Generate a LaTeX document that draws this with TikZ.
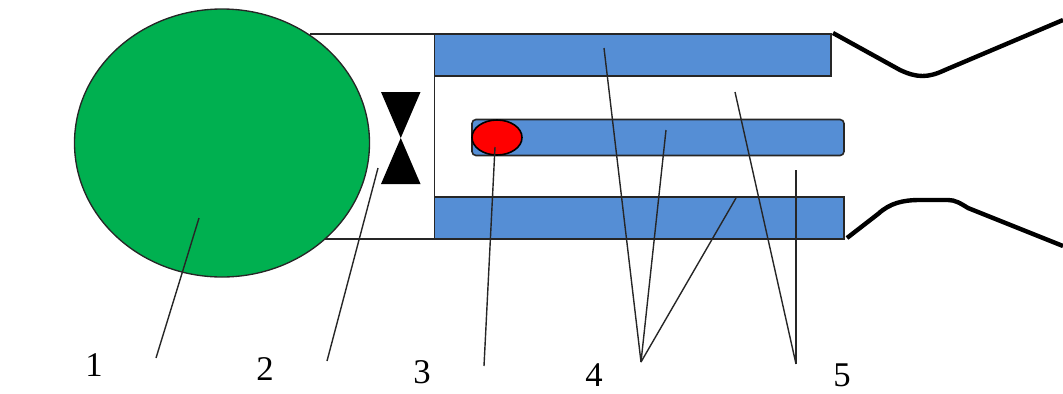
\documentclass[tikz,border=0pt]{standalone}
\usepackage{fontspec}
\usetikzlibrary{shapes.geometric}
\setmainfont{Liberation Serif}
\definecolor{barblue}{HTML}{558ED5}
\definecolor{bulbgreen}{HTML}{00B050}
\tikzset{
  bar/.style={draw=black!85,fill=barblue,line width=1.2pt,rectangle,inner sep=0pt,outer sep=0pt,anchor=north west},
  wall/.style={draw=black!85,line width=1.2pt},
  leader/.style={draw=black!85,line width=1.05pt},
  nozzle/.style={draw=black,line width=3.3pt,line join=round},
  lab/.style={font=\fontsize{26}{26}\selectfont,inner sep=0pt,text=black},
}
\begin{document}
\begin{tikzpicture}[x=0.75pt,y=-0.75pt]
\useasboundingbox (0,0) rectangle (1063,393);
% housing
\coordinate (hTL) at (310,34);
\coordinate (hTR) at (434.5,34);
\coordinate (hBL) at (325,239);
\coordinate (hBR) at (434.5,239);
\draw[wall] (hTL) -- (hTR) -- (hBR) -- (hBL);
% bars
\node[bar,minimum width=396.5*0.75pt,minimum height=42*0.75pt] (top) at (434.5,34) {};
\node[bar,minimum width=409.5*0.75pt,minimum height=42*0.75pt] (bot) at (434.5,197) {};
\node[bar,rounded corners=3pt,minimum width=372*0.75pt,minimum height=36*0.75pt] (mid) at (472,119.5) {};
% bulb
\node[draw=black!85,fill=bulbgreen,ellipse,line width=1pt,minimum width=295*0.75pt,minimum height=268*0.75pt,inner sep=0pt] (bulb) at (222,143) {};
\node[draw=black,fill=red,ellipse,line width=1.2pt,minimum width=50*0.75pt,minimum height=35*0.75pt,inner sep=0pt] (red) at (497,137.5) {};
% valve
\coordinate (v1) at (381,92);
\coordinate (v2) at (420.5,92);
\coordinate (v3) at (381,184);
\coordinate (v4) at (420.5,184);
\fill[black] (v1) -- (v2) -- (v3) -- (v4) -- cycle;
% nozzle
\coordinate (n1) at (833,33);
\coordinate (n2) at (1063,20);
\coordinate (n3) at (847,238);
\coordinate (n4) at (1063,246);
\draw[nozzle] (n1) -- (900,70) .. controls (917,78) and (928,78) .. (945,70) -- (n2);
\draw[nozzle] (n3) -- (878,214) .. controls (890,203) and (903,200) .. (920,200) -- (948,200) .. controls (955,200) and (960,203) .. (968,208) -- (n4);
% labels
\node[lab] (l1) at (94,365) {1};
\node[lab] (l2) at (265,369) {2};
\node[lab] (l3) at (422,372) {3};
\node[lab] (l4) at (594,375) {4};
\node[lab] (l5) at (842,375) {5};
% leader ends
\coordinate (a1) at (199,218); \coordinate (b1) at (156,358);
\coordinate (a2) at (378,168); \coordinate (b2) at (327,361);
\coordinate (a3) at (495,147); \coordinate (b3) at (484,366);
\coordinate (a4) at (604,48);  \coordinate (c4) at (666,130); \coordinate (d4) at (736,198); \coordinate (b4) at (641,362);
\coordinate (a5) at (735,92);  \coordinate (c5) at (796,170); \coordinate (b5) at (796,364);
\draw[leader] (a1) -- (b1);
\draw[leader] (a2) -- (b2);
\draw[leader] (a3) -- (b3);
\draw[leader] (a4) -- (b4);
\draw[leader] (c4) -- (b4);
\draw[leader] (d4) -- (b4);
\draw[leader] (a5) -- (b5);
\draw[leader] (c5) -- (b5);
\end{tikzpicture}
\end{document}
